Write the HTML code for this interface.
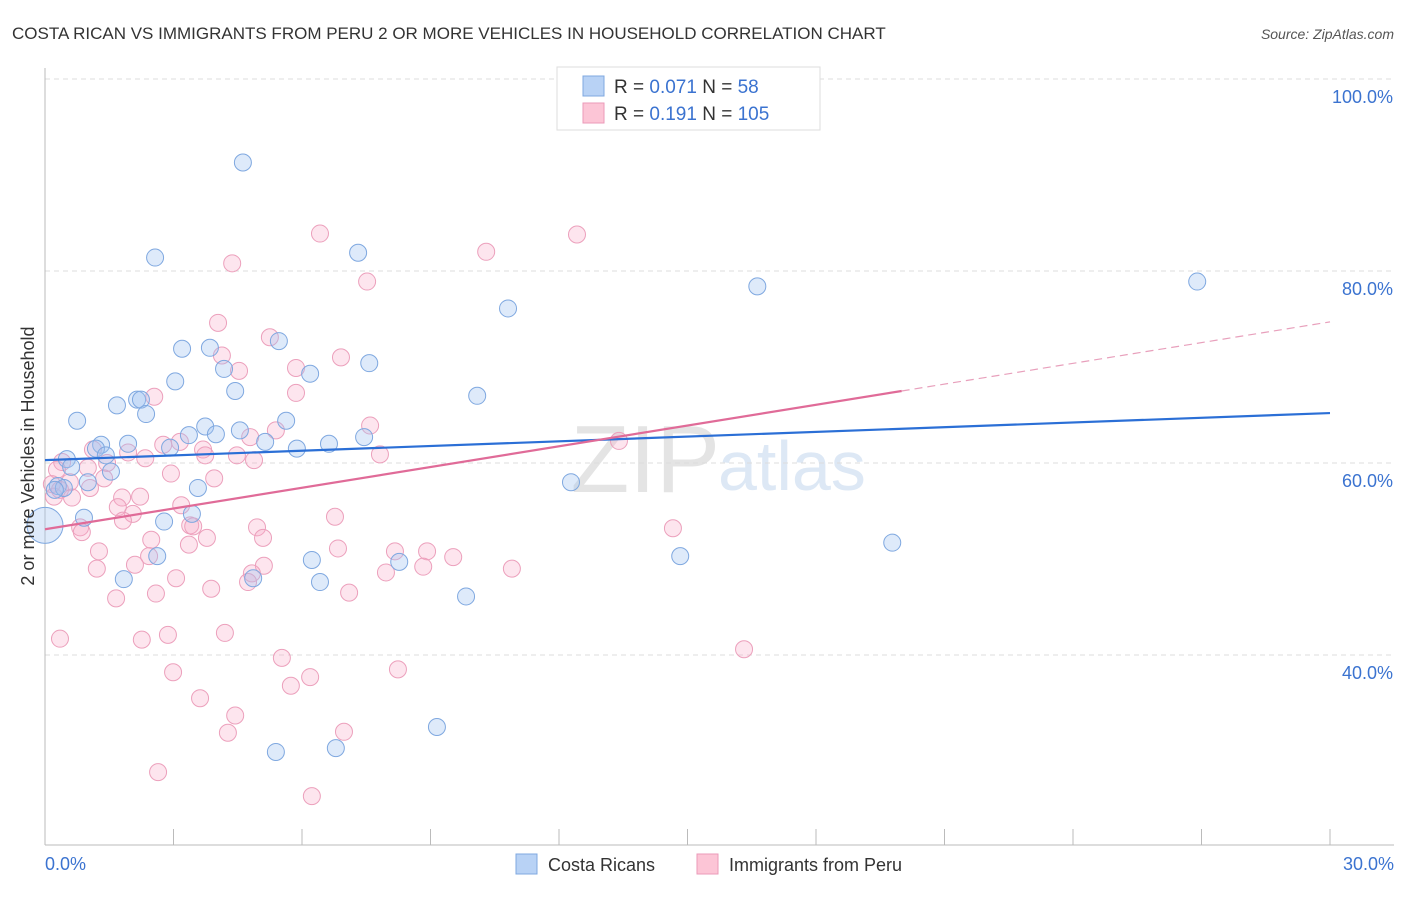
<!DOCTYPE html>
<html><head><meta charset="utf-8"><style>
body{margin:0;background:#fff;font-family:"Liberation Sans",sans-serif;}
svg text{font-family:"Liberation Sans",sans-serif;}
</style></head><body>
<svg id="c" width="1406" height="892" xmlns="http://www.w3.org/2000/svg">
<text x="12" y="39" font-size="17" fill="#333">COSTA RICAN VS IMMIGRANTS FROM PERU 2 OR MORE VEHICLES IN HOUSEHOLD CORRELATION CHART</text>
<text x="1394" y="39" font-size="14" fill="#555" font-style="italic" text-anchor="end">Source: ZipAtlas.com</text>
<text x="720" y="492" font-size="96" fill="#e4e4e4" font-family="Liberation Serif" text-anchor="end">ZIP</text>
<text x="718" y="490" font-size="70" fill="#dde8f5">atlas</text>
<g id="grid"></g>
<g id="axes"></g>
<g id="pts"></g>
<g id="lines"></g>
<text transform="translate(34,456) rotate(-90)" font-size="18" fill="#333" text-anchor="middle">2 or more Vehicles in Household</text>
<g>
<rect x="557" y="67" width="263" height="63" fill="#fff" stroke="#ddd"/>
<rect x="583" y="76" width="21" height="20" fill="#b8d2f5" stroke="#7fa8e0"/>
<rect x="583" y="103" width="21" height="20" fill="#fcc5d6" stroke="#eb9ab8"/>
<text x="614" y="93" font-size="19" fill="#333">R = <tspan fill="#3b73d0">0.071</tspan>   N =   <tspan fill="#3b73d0">58</tspan></text>
<text x="614" y="120" font-size="19" fill="#333">R =  <tspan fill="#3b73d0">0.191</tspan>   N = <tspan fill="#3b73d0">105</tspan></text>
</g>
<g>
<rect x="516" y="854" width="21" height="20" fill="#b8d2f5" stroke="#7fa8e0"/>
<text x="548" y="871" font-size="18" fill="#333">Costa Ricans</text>
<rect x="697" y="854" width="21" height="20" fill="#fcc5d6" stroke="#eb9ab8"/>
<text x="729" y="871" font-size="18" fill="#333">Immigrants from Peru</text>
</g>
</svg>
<script>
const yTicks=[100,80,60,40];
const yTickLabels=["100.0%","80.0%","60.0%","40.0%"];
const xTickLabels=["0.0%","30.0%"];
const blueX=[4.62,2.57,7.31,16.63,26.9,10.81,5.46,3.20,3.85,7.57,4.18,6.19,3.04,4.44,10.09,1.68,2.15,2.24,2.36,0.75,5.63,3.74,4.55,3.36,3.99,7.45,6.63,5.14,1.94,1.31,1.19,2.92,5.88,1.42,0.51,0.61,1.54,1.00,0.30,0.44,0.23,3.57,12.28,0.91,3.43,2.78,19.78,14.83,6.23,8.27,2.62,1.84,4.86,6.42,9.83,9.15,5.39,6.79];
const blueY=[91.3,81.4,81.9,78.4,78.9,76.1,72.7,71.9,72.0,70.4,69.8,69.3,68.5,67.5,67.0,66.0,66.6,66.6,65.1,64.4,64.4,63.8,63.4,62.9,63.0,62.7,62.0,62.2,62.0,61.9,61.5,61.6,61.5,60.8,60.4,59.6,59.1,58.0,57.6,57.4,57.2,57.4,58.0,54.3,54.7,53.9,51.7,50.3,49.9,49.7,50.3,47.9,48.0,47.6,46.1,32.5,29.9,30.3];
const pinkX=[12.33,6.42,12.42,10.30,4.37,7.52,4.04,5.25,4.13,6.91,5.86,4.53,5.86,2.55,7.59,5.39,4.79,13.40,2.76,3.15,3.69,3.74,2.34,4.48,4.88,7.82,1.94,1.12,0.40,1.45,0.28,1.00,2.94,3.95,1.38,0.58,0.16,0.35,1.05,0.63,0.21,2.22,1.80,3.18,1.70,2.05,6.77,1.82,3.39,0.82,14.66,3.46,4.95,0.86,3.78,5.09,2.48,3.36,6.84,1.26,8.17,8.92,2.43,9.53,5.11,1.21,8.83,2.10,10.90,7.96,4.83,3.06,4.74,3.88,2.59,7.10,1.66,4.20,2.87,0.35,2.26,16.32,5.53,8.24,2.99,6.19,5.74,3.62,4.44,4.27,6.98,2.64,6.23];
const pinkY=[100,83.9,83.8,82.0,80.8,78.9,74.6,73.1,71.2,71.0,69.9,69.6,67.3,66.9,63.9,63.4,62.7,62.3,61.9,62.2,61.4,60.8,60.5,60.8,60.3,60.9,61.1,61.4,60.1,60.0,59.3,59.5,58.9,58.4,58.4,58.0,57.8,57.2,57.4,56.4,56.5,56.5,56.4,55.6,55.4,54.7,54.4,54.0,53.5,53.3,53.2,53.4,53.3,52.8,52.2,52.2,52.0,51.5,51.1,50.8,50.8,50.8,50.3,50.2,49.3,49.0,49.2,49.4,49.0,48.6,48.5,48.0,47.6,46.9,46.4,46.5,45.9,42.3,42.1,41.7,41.6,40.6,39.7,38.5,38.2,37.7,36.8,35.5,33.7,31.9,32.0,27.8,25.3];
const blueTrend=[60.3,65.2];
const pinkTrend=[53.1,67.5,74.7];
const X=v=>45+v/30*1285;
const Y=v=>79+(100-v)*9.6;
const NS="http://www.w3.org/2000/svg";
function mk(tag,attrs,parent){const e=document.createElementNS(NS,tag);for(const k in attrs)e.setAttribute(k,attrs[k]);document.getElementById(parent).appendChild(e);return e;}
yTicks.forEach((t,i)=>{
 const g=mk('line',{x1:45,x2:1394,y1:Y(t),y2:Y(t),stroke:'#ddd','stroke-dasharray':'5,4'},'grid');
 
 
 const l=mk('text',{x:1393,y:Y(t)+24,'font-size':18,fill:'#3b73d0','text-anchor':'end'},'grid');
 l.textContent=yTickLabels[i];
 
 
});
const ax=mk('line',{x1:45,x2:45,y1:68,y2:845,stroke:'#bbb'},'axes');


const bx=mk('line',{x1:45,x2:1394,y1:845,y2:845,stroke:'#bbb'},'axes');


for(let i=1;i<=10;i++){
 const t=mk('line',{x1:X(i*3),x2:X(i*3),y1:829,y2:845,stroke:'#bbb'},'axes');
 
 
}
[[0,45,'start'],[30,1394,'end']].forEach((a,i)=>{
 const t=mk('text',{x:a[1],y:870,'font-size':18,fill:'#3b73d0','text-anchor':a[2]},'axes');
 t.textContent=xTickLabels[i];
 
 
});
pinkX.forEach((v,i)=>{
 const c=mk('circle',{cx:X(v),cy:Y(pinkY[i]),r:8.5,fill:'rgba(248,170,198,0.3)',stroke:'#eca0bc','stroke-width':1},'pts');
 
 
});
blueX.forEach((v,i)=>{
 const c=mk('circle',{cx:X(v),cy:Y(blueY[i]),r:8.5,fill:'rgba(160,196,240,0.35)',stroke:'#7fa8e0','stroke-width':1},'pts');
 
 
});
const big=mk('circle',{cx:X(0),cy:Y(53.5),r:18,fill:'rgba(160,196,240,0.35)',stroke:'#7fa8e0'},'pts');


const bl=mk('line',{x1:X(0),y1:Y(blueTrend[0]),x2:X(30),y2:Y(blueTrend[1]),stroke:'#2b6fd6','stroke-width':2.2},'lines');


const pl=mk('line',{x1:X(0),y1:Y(pinkTrend[0]),x2:X(20),y2:Y(pinkTrend[1]),stroke:'#e06b98','stroke-width':2.2},'lines');


const pd=mk('line',{x1:X(20),y1:Y(pinkTrend[1]),x2:X(30),y2:Y(pinkTrend[2]),stroke:'#e8a0bc','stroke-width':1.2,'stroke-dasharray':'8,5'},'lines');


</script>
</body></html>
